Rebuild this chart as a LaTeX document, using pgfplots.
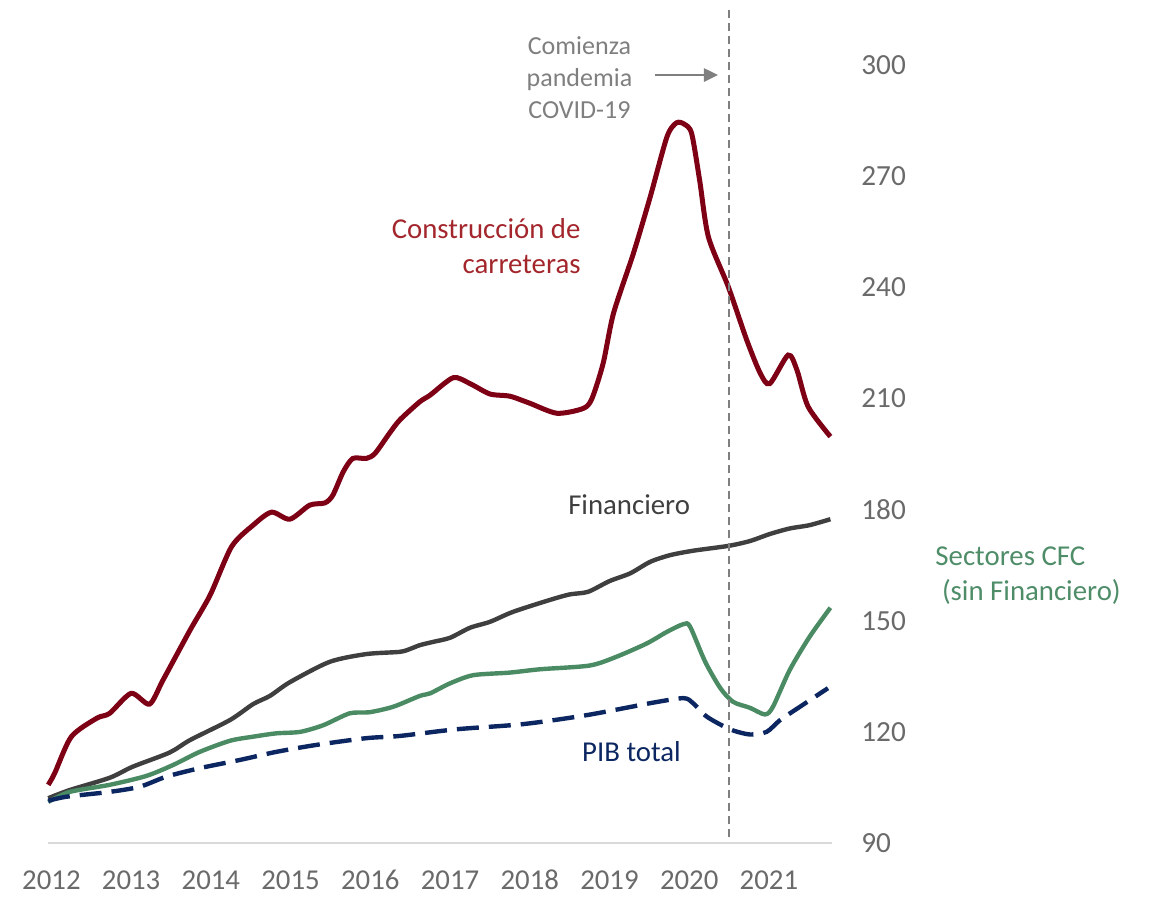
\documentclass[border=0pt]{standalone}
\usepackage{fontspec}
\setmainfont{Carlito}
\usepackage{pgfplots}
\pgfplotsset{compat=1.18}
\usetikzlibrary{arrows.meta}
\definecolor{redline}{HTML}{7E0015}
\definecolor{redtext}{HTML}{A3262C}
\definecolor{darkline}{HTML}{3F3F3F}
\definecolor{greenline}{HTML}{4A8B64}
\definecolor{greentext}{HTML}{4F8D69}
\definecolor{navy}{HTML}{0B2660}
\definecolor{ticktext}{HTML}{6A6A6A}
\definecolor{annot}{HTML}{7F7F7F}
\begin{document}
\begin{tikzpicture}
\useasboundingbox (-24pt,-26.5pt) rectangle (551pt,421.5pt);
\begin{axis}[
  at={(0,0)}, anchor=south west,
  scale only axis, width=392pt, height=389pt,
  xmin=2011.957, xmax=2021.79, ymin=90, ymax=300,
  axis x line*=bottom, axis y line*=right,
  x axis line style={draw=black!15, line width=0.7pt, -},
  y axis line style={draw=none},
  xtick={2012,...,2021},
  xticklabels={2012,2013,2014,2015,2016,2017,2018,2019,2020,2021},
  ytick={90,120,...,300},
  major tick length=0pt,
  /pgf/number format/assume math mode=true,
  /pgf/number format/1000 sep={},
  xticklabel style={anchor=base, inner sep=0pt, yshift=-23pt, font=\fontsize{14.4}{16}\selectfont, text=ticktext},
  yticklabel style={anchor=west, inner sep=0pt, xshift=14.5pt, font=\fontsize{14.6}{16}\selectfont, text=ticktext},
  clip=false,
]
% Construccion de carreteras
\addplot[redline, line width=2.5pt, smooth, tension=0.45] coordinates {
(2011.96,105.7) (2012.04,108.8) (2012.25,118.7) (2012.57,123.7) (2012.73,125.0)
(2013.00,130.4) (2013.23,127.5) (2013.40,134.0) (2013.74,147.5) (2013.99,156.9)
(2014.26,170.0) (2014.53,175.8) (2014.76,179.3) (2014.99,177.4) (2015.24,181.2)
(2015.43,181.8) (2015.53,183.9) (2015.66,190.2) (2015.78,193.8) (2015.95,193.8)
(2016.06,195.2) (2016.24,200.6) (2016.37,204.2) (2016.62,209.1) (2016.75,210.9) (2017.04,215.6)
(2017.25,214.0) (2017.50,211.2) (2017.75,210.6) (2018.00,208.7) (2018.34,206.0)
(2018.67,207.3) (2018.78,210.0) (2018.92,219.5) (2019.05,233.0) (2019.30,249.2)
(2019.51,264.4) (2019.72,280.6) (2019.84,284.4) (2019.94,284.0) (2020.03,281.5)
(2020.13,268.9) (2020.24,253.6) (2020.49,240.1) (2020.72,225.8) (2020.89,216.8)
(2021.01,214.0) (2021.24,221.7) (2021.35,217.7) (2021.49,207.8) (2021.77,199.7)
};
% Financiero
\addplot[darkline, line width=2.2pt, smooth, tension=0.45] coordinates {
(2011.96,102.1) (2012.23,104.3) (2012.73,107.6) (2013.02,110.6) (2013.48,114.4)
(2013.74,117.8) (2014.24,123.2) (2014.53,127.5) (2014.74,129.7) (2014.99,133.4)
(2015.49,138.9) (2015.95,141.0) (2016.37,141.6) (2016.50,142.4) (2016.62,143.4)
(2016.79,144.3) (2017.00,145.4) (2017.25,148.1) (2017.50,149.7) (2017.79,152.4)
(2018.25,155.6) (2018.50,157.1) (2018.73,157.8) (2019.00,160.7) (2019.26,162.8)
(2019.51,165.9) (2019.76,167.7) (2020.05,168.9) (2020.49,170.2) (2020.76,171.5)
(2021.01,173.4) (2021.26,174.9) (2021.51,175.8) (2021.77,177.4)
};
% Sectores CFC
\addplot[greenline, line width=2.2pt, smooth, tension=0.45] coordinates {
(2011.96,101.1) (2012.23,103.8) (2012.73,105.7) (2013.19,108.1) (2013.53,111.1)
(2013.86,114.6) (2014.24,117.6) (2014.53,118.7) (2014.82,119.6) (2015.12,120.0)
(2015.41,121.8) (2015.74,125.0) (2015.99,125.3) (2016.29,126.8) (2016.62,129.7)
(2016.75,130.4) (2017.00,133.1) (2017.29,135.3) (2017.75,136.0) (2018.13,136.9)
(2018.75,137.9) (2019.09,140.3) (2019.47,143.9) (2019.72,147.0) (2019.93,149.1)
(2020.01,148.4) (2020.20,138.9) (2020.39,131.8) (2020.55,128.1) (2020.76,126.5)
(2020.95,124.7) (2021.05,126.8) (2021.26,136.7) (2021.51,145.7) (2021.77,153.5)
};
% PIB total
\addplot[navy, line width=2.2pt, smooth, tension=0.45, dash pattern=on 11pt off 5pt] coordinates {
(2011.96,101.4) (2012.19,102.5) (2012.73,103.8) (2013.11,105.2) (2013.44,107.9)
(2013.86,110.2) (2014.36,112.4) (2014.82,114.6) (2015.33,116.5) (2015.95,118.3)
(2016.37,118.9) (2017.08,120.7) (2017.92,122.1) (2018.71,124.5) (2019.55,127.9)
(2019.93,129.1) (2020.05,127.7) (2020.22,124.1) (2020.51,120.7) (2020.76,119.3)
(2020.97,120.0) (2021.14,123.2) (2021.39,126.8) (2021.74,131.8)
};
% pandemic line and annotation
\draw[annot, line width=1pt, dash pattern=on 4pt off 2.5pt] (axis cs:2020.5,91.5) -- (axis cs:2020.5,316);
\draw[annot, line width=1.3pt, -{Triangle[length=7pt,width=6.5pt]}] (axis cs:2019.57,297.3) -- (axis cs:2020.36,297.3);
\node[annot, align=center, inner sep=0pt, font=\fontsize{13}{16}\selectfont] at (axis cs:2018.623,296.5) {Comienza\\pandemia\\COVID-19};
\node[redtext, align=right, anchor=east, inner sep=0pt, font=\fontsize{14.4}{17.5}\selectfont] at (axis cs:2018.641,251.1) {Construcción de\\carreteras};
\node[darkline, inner sep=0pt, font=\fontsize{14.4}{17.5}\selectfont] at (axis cs:2019.246,181.2) {Financiero};
\node[greentext, align=left, anchor=west, inner sep=0pt, font=\fontsize{14.4}{17.5}\selectfont] at (axis cs:2023.083,162.1) {Sectores CFC\\\mbox{}\ (sin Financiero)};
\node[navy, inner sep=0pt, font=\fontsize{14.4}{17.5}\selectfont] at (axis cs:2019.275,114.6) {PIB total};
\end{axis}
\end{tikzpicture}
\end{document}
